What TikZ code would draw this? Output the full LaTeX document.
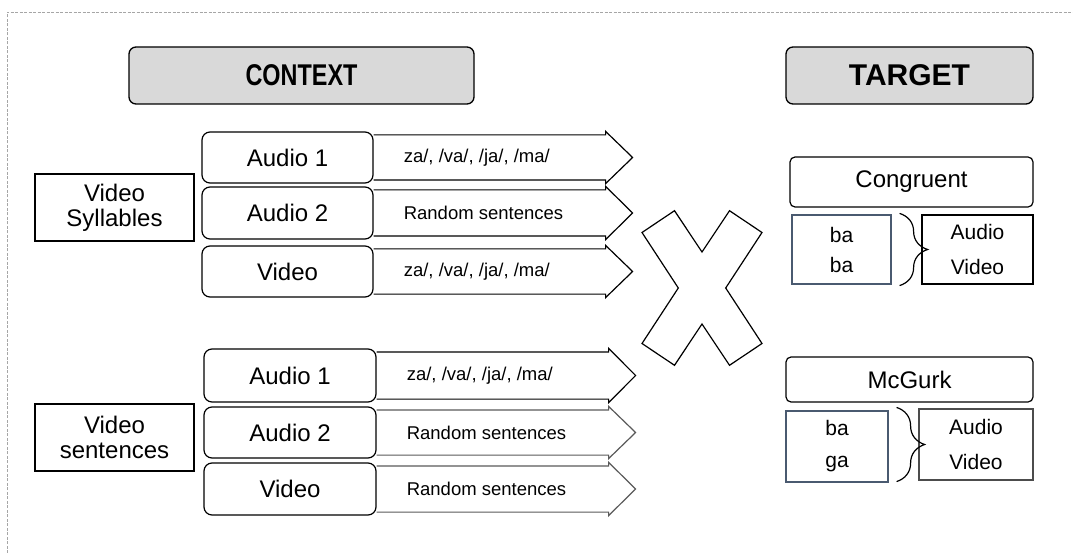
\documentclass[tikz,border=0pt]{standalone}
\usepackage{fontspec}
\setmainfont{Liberation Sans}
\usepackage{graphicx}
\usetikzlibrary{calc,decorations.pathreplacing}
\definecolor{hdrgray}{HTML}{D9D9D9}
\definecolor{slateline}{HTML}{4A5A70}
\definecolor{framegray}{HTML}{A6A6A6}

% stream arrow leaving a channel box: [colour]{box}{text}
\newcommand{\streamarrow}[3][black]{%
  \draw[arrowline, draw=#1] ($(#2.north east)+(0,3.5)$) -- ($(#2.north east)+(232,3.5)$)
    -- ($(#2.north east)+(232,0)$) -- ($(#2.east)+(259,0)$)
    -- ($(#2.south east)+(232,0)$) -- ($(#2.south east)+(232,-3.5)$)
    -- ($(#2.south east)+(0,-3.5)$);
  \node[arrowtext] (#2-lbl) at ($(#2.east)+(30,0)$) {#3};}

\begin{document}
\begin{tikzpicture}[x=1pt, y=-1pt,
   hdr/.style={draw, rounded corners=7pt, fill=hdrgray, line width=1.3pt,
               minimum height=57pt, inner sep=0pt,
               font=\bfseries\fontsize{30}{30}\selectfont},
   chan/.style={draw, rounded corners=8pt, line width=1.2pt, minimum width=171pt,
                minimum height=51pt, inner sep=0pt, font=\fontsize{24}{25}\selectfont},
   group/.style={draw, line width=1.2pt, minimum width=159pt, minimum height=67pt,
                 inner sep=0pt, align=center, font=\fontsize{24}{25}\selectfont},
   cond/.style={draw, rounded corners=5pt, line width=1.2pt, inner sep=0pt,
                font=\fontsize{24}{25}\selectfont},
   pair/.style={draw, line width=1.2pt, inner sep=0pt, align=center},
   arrowtext/.style={anchor=west, inner sep=0pt, font=\fontsize{18.5}{20}\selectfont},
   arrowline/.style={line width=1.2pt, line join=miter},
   brace/.style={decorate, decoration={brace, amplitude=28pt}, line width=1.2pt}]
  \useasboundingbox (0,0) rectangle (1073,553);
  \draw[framegray, line width=0.6pt, dash pattern=on 3pt off 1.5pt] (7,553) -- (7,12) -- (1073,12);

  % headers
  \node[hdr, minimum width=345pt] (ctx) at (301.5,75.5) {\scalebox{0.78}[1]{CONTEXT}};
  \node[hdr, minimum width=247pt] (tgt) at (909.5,75.5) {TARGET};

  % context: syllables
  \node[group] (syl) at (114.5,207.5) {Video\\Syllables};
  \node[chan] (sa1) at (287.5,157.5) {Audio 1};
  \node[chan, minimum height=52pt] (sa2) at (287.5,213) {Audio 2};
  \node[chan] (sv) at (287.5,271.5) {Video};
  \streamarrow{sa1}{za/, /va/, /ja/, /ma/}
  \streamarrow{sa2}{Random sentences}
  \streamarrow{sv}{za/, /va/, /ja/, /ma/}

  % context: sentences
  \node[group] (sen) at (114.5,437.5) {Video\\sentences};
  \node[chan, minimum width=172pt, minimum height=53pt] (ea1) at (290,375.5) {Audio 1};
  \node[chan, minimum width=172pt] (ea2) at (290,432.5) {Audio 2};
  \node[chan, minimum width=172pt, minimum height=52pt] (ev) at (290,489) {Video};
  \streamarrow{ea1}{za/, /va/, /ja/, /ma/}
  \streamarrow[black!65]{ea2}{Random sentences}
  \streamarrow[black!65]{ev}{Random sentences}

  % cross
  \draw[arrowline, shift={(702,288)}] (-60,-55.5) -- (-27.5,-77.3) -- (0,-36)
    -- (27.5,-77.3) -- (60,-55.5) -- (23.7,0) -- (60,55.5) -- (27.5,77.3)
    -- (0,36) -- (-27.5,77.3) -- (-60,55.5) -- (-23.7,0) -- cycle;

  % target: congruent
  \node[cond, minimum width=243pt, minimum height=50pt] (cong) at (911.5,182) {Congruent};
  \node[pair, draw=slateline, minimum width=99pt, minimum height=69pt,
        font=\fontsize{21}{30}\selectfont] (congsrc) at (841.5,249.5) {ba\\ba};
  \node[pair, minimum width=111pt, minimum height=69pt,
        font=\fontsize{21}{35}\selectfont] (congmod) at (977.5,249.5) {Audio\\Video};
  \draw[brace] ($(congsrc.north east)+(8,-1)$) -- ($(congsrc.south east)+(8,1)$);

  % target: mcgurk
  \node[cond, minimum width=247pt, minimum height=45pt] (mcg) at (909.5,379.5) {McGurk};
  \node[pair, draw=slateline, minimum width=102pt, minimum height=71pt,
        font=\fontsize{21}{32}\selectfont] (mcgsrc) at (837,446.5) {ba\\ga};
  \node[pair, draw=black!70, minimum width=114pt, minimum height=71pt,
        font=\fontsize{21}{35}\selectfont] (mcgmod) at (976,444.5) {Audio\\Video};
  \draw[brace] ($(mcgsrc.north east)+(8,-3)$) -- ($(mcgsrc.south east)+(8,-1)$);
\end{tikzpicture}
\end{document}
